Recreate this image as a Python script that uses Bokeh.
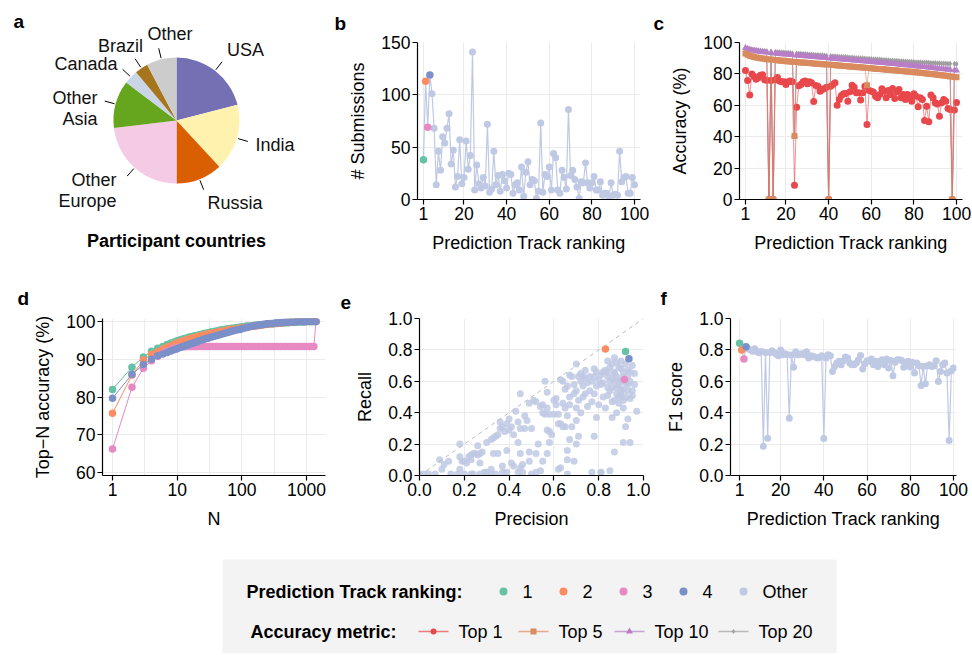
import math
from bokeh.plotting import figure
from bokeh.layouts import column, row
from bokeh.models import Range1d, FixedTicker, NumeralTickFormatter, Slope
from bokeh.embed import file_html
from bokeh.resources import INLINE
from bokeh.core.properties import value

FONT = "Liberation Sans"
TICK_FS = "17.5px"
LAB_FS = "18px"

# ---------------- data ----------------
countries = ["USA", "India", "Russia", "Other\nEurope", "Other\nAsia", "Canada", "Brazil", "Other"]
country_share = [21.0, 17.1, 11.9, 23.1, 12.2, 3.6, 3.4, 7.7]
country_colors = ["#7570B3", "#FFF2AE", "#D95F02", "#F4CAE4", "#66A61E", "#CBD5E8", "#A6761D", "#CCCCCC"]

rank_labels = ["1", "2", "3", "4", "Other"]
rank_colors = ["#66C2A5", "#FC8D62", "#E78AC3", "#7B8FC8", "#BFC9E4"]

metric_labels = ["Top 1", "Top 5", "Top 10", "Top 20"]
metric_colors = ["#E8474C", "#D98B5F", "#B77EC6", "#9E9E9E"]
metric_markers = ["circle", "square", "triangle", "diamond"]

ranks = list(range(1, 101))
submissions = [38, 113, 69, 119, 101, 68, 14, 46, 28, 60,
               54, 68, 82, 34, 47, 12, 22, 57, 15, 21,
               56, 29, 42, 141, 9, 33, 15, 11, 21, 13,
               72, 7, 10, 46, 14, 23, 8, 24, 18, 11,
               25, 24, 6, 14, 16, 9, 31, 3, 26, 36,
               14, 19, 18, 1, 8, 73, 7, 24, 22, 31,
               9, 44, 40, 9, 6, 28, 21, 10, 86, 23,
               28, 19, 12, 1, 17, 16, 35, 16, 11, 16,
               22, 9, 9, 17, 4, 6, 6, 2, 16, 4,
               5, 4, 46, 17, 21, 22, 6, 6, 21, 14]

acc_top1 = [82.2, 75.8, 66.5, 80.0, 78.3, 76.6, 77.5, 79.2, 79.4, 76.2,
            76.0, 0.0, 75.8, 0.0, 76.2, 77.7, 75.4, 75.0, 75.0, 73.2,
            75.0, 75.4, 75.0, 9.0, 58.8, 72.4, 73.2, 75.0, 75.4, 73.7,
            75.0, 74.3, 62.4, 72.6, 72.2, 69.0, 70.0, 70.7, 71.5, 0.0,
            72.2, 73.2, 74.3, 60.1, 63.7, 66.2, 67.3, 67.5, 62.6, 68.6,
            72.8, 71.5, 68.0, 68.0, 63.3, 68.0, 72.2, 47.8, 69.4, 69.0,
            68.4, 65.8, 64.8, 66.9, 70.5, 69.0, 64.8, 69.4, 66.9, 70.7,
            64.3, 68.4, 70.0, 64.8, 66.9, 63.7, 66.9, 64.8, 62.6, 67.3,
            65.8, 59.0, 64.8, 63.7, 50.3, 59.4, 49.5, 66.5, 64.8, 61.6,
            60.9, 53.0, 61.6, 63.7, 62.6, 58.0, 57.3, 0.0, 57.0, 61.8]
acc_top5 = [93.0, 92.2, 91.6, 91.2, 90.8, 90.5, 90.3, 90.0, 89.8, 89.6,
            89.4, 0.0, 89.1, 0.0, 88.8, 88.7, 88.5, 88.4, 88.3, 88.1,
            88.0, 87.9, 87.8, 40.4, 87.6, 87.5, 87.3, 87.2, 87.1, 87.0,
            86.9, 86.8, 86.6, 86.5, 86.4, 86.3, 86.2, 86.1, 86.0, 0.0,
            85.8, 85.7, 85.6, 85.4, 85.3, 85.2, 85.1, 85.0, 84.9, 84.7,
            84.6, 84.5, 84.4, 84.3, 84.2, 84.0, 83.9, 72.8, 83.7, 83.6,
            83.5, 83.3, 83.2, 83.1, 83.0, 82.9, 82.7, 82.6, 82.5, 82.4,
            82.3, 82.1, 82.0, 81.9, 81.8, 81.6, 81.5, 81.4, 81.3, 81.1,
            81.0, 80.9, 80.7, 80.6, 80.4, 80.3, 80.1, 80.0, 79.8, 79.7,
            79.5, 79.3, 79.1, 79.0, 78.8, 78.6, 78.4, 0.0, 78.1, 77.9]
acc_top10 = [96.5, 95.8, 95.3, 95.0, 94.7, 94.5, 94.3, 94.1, 93.9, 93.8,
             93.6, 0.0, 93.3, 0.0, 93.0, 92.9, 92.8, 92.6, 92.5, 92.4,
             92.3, 92.2, 92.0, 40.6, 91.8, 91.7, 91.6, 91.5, 91.3, 91.2,
             91.1, 91.0, 90.9, 90.8, 90.6, 90.5, 90.4, 90.3, 90.2, 0.0,
             89.9, 89.8, 89.7, 89.6, 89.4, 89.3, 89.2, 89.1, 89.0, 88.8,
             88.7, 88.6, 88.5, 88.4, 88.2, 88.1, 88.0, 87.9, 87.8, 87.6,
             87.5, 87.4, 87.3, 87.1, 87.0, 86.9, 86.8, 86.6, 86.5, 86.4,
             86.3, 86.1, 86.0, 85.9, 85.7, 85.6, 85.5, 85.3, 85.2, 85.1,
             84.9, 84.8, 84.7, 84.5, 84.4, 84.2, 84.1, 83.9, 83.8, 83.6,
             83.5, 83.3, 83.2, 83.0, 82.9, 82.7, 82.6, 0.0, 82.3, 82.1]
acc_top20 = [96.8, 96.3, 95.9, 95.6, 95.4, 95.2, 95.0, 94.9, 94.7, 94.6,
             94.5, 0.0, 94.2, 0.0, 94.0, 93.9, 93.8, 93.7, 93.6, 93.5,
             93.4, 93.3, 93.2, 40.8, 93.0, 92.9, 92.8, 92.7, 92.6, 92.5,
             92.4, 92.3, 92.2, 92.1, 92.0, 91.9, 91.8, 91.7, 91.6, 0.0,
             91.4, 91.3, 91.2, 91.1, 91.0, 90.9, 90.8, 90.7, 90.6, 90.5,
             90.4, 90.3, 90.2, 90.1, 90.0, 89.9, 89.8, 89.7, 89.6, 89.5,
             89.4, 89.3, 89.2, 89.1, 89.0, 88.9, 88.8, 88.7, 88.6, 88.5,
             88.4, 88.3, 88.2, 88.1, 88.0, 87.9, 87.9, 87.8, 87.7, 87.6,
             87.5, 87.5, 87.4, 87.3, 87.2, 87.2, 87.1, 87.0, 87.0, 86.9,
             86.8, 86.8, 86.7, 86.6, 86.6, 86.5, 86.5, 0.0, 86.4, 86.3]

topn_N = [1, 2, 3, 4, 5, 6, 7, 8, 9, 10, 11, 12, 13, 14, 15, 16, 17, 18, 19, 20,
          22, 24, 26, 28, 30, 33, 36, 40, 44, 48, 53, 58, 64, 70, 77,
          85, 93, 100, 110, 120, 130, 145, 160, 175, 190, 210, 230, 250, 275, 300,
          330, 360, 400, 440, 480, 530, 580, 640, 700, 770, 850, 930, 1000, 1100, 1200,
          1300, 1400]
topn_rank1 = [82.0, 87.9, 90.6, 92.1, 92.9, 93.4, 93.9, 94.3, 94.6, 94.9, 95.1, 95.3, 95.5, 95.6, 95.8, 95.9, 96.0, 96.1, 96.2, 96.3,
              96.5, 96.6, 96.8, 96.9, 97.0, 97.2, 97.3, 97.5, 97.6, 97.8, 97.9, 98.0, 98.1, 98.2, 98.3,
              98.4, 98.5, 98.6, 98.7, 98.8, 98.8, 98.9, 99.0, 99.1, 99.1, 99.2, 99.3, 99.3, 99.4, 99.4,
              99.5, 99.5, 99.6, 99.6, 99.7, 99.7, 99.8, 99.8, 99.8, 99.9, 99.9, 99.9, 100.0, 100.0, 100.0,
              100.0, 100.0]
topn_rank2 = [75.7, 85.8, 89.8, 91.3, 92.0, 92.7, 93.2, 93.6, 94.0, 94.3, 94.6, 94.8, 95.0, 95.2, 95.3, 95.5, 95.6, 95.7, 95.8, 95.9,
              96.1, 96.3, 96.4, 96.5, 96.7, 96.8, 97.0, 97.1, 97.3, 97.4, 97.5, 97.7, 97.8, 97.9, 98.0,
              98.1, 98.2, 98.3, 98.4, 98.5, 98.6, 98.7, 98.8, 98.9, 99.0, 99.1, 99.2, 99.3, 99.4, 99.4,
              99.5, 99.6, 99.6, 99.7, 99.8, 99.8, 99.9, 99.9, 100.0, 100.0, 100.0, 100.0, 100.0, 100.0, 100.0,
              100.0, 100.0]
topn_rank3 = [66.2, 82.6, 87.6, 89.6, 90.8, 91.6, 92.2, 92.6, 92.9, 93.1, 93.2, 93.3, 93.3, 93.4, 93.4, 93.4, 93.4, 93.4, 93.4, 93.4,
              93.4, 93.4, 93.4, 93.4, 93.4, 93.4, 93.4, 93.4, 93.4, 93.4, 93.4, 93.4, 93.4, 93.4, 93.4,
              93.4, 93.4, 93.4, 93.4, 93.4, 93.4, 93.4, 93.4, 93.4, 93.4, 93.4, 93.4, 93.4, 93.4, 93.4,
              93.4, 93.4, 93.4, 93.4, 93.4, 93.4, 93.4, 93.4, 93.4, 93.4, 93.4, 93.4, 93.4, 93.4, 93.4,
              93.4, 100.0]
topn_rank4 = [79.7, 86.0, 88.6, 90.0, 90.9, 91.4, 91.8, 92.2, 92.5, 92.8, 93.1, 93.3, 93.5, 93.7, 93.9, 94.1, 94.2, 94.4, 94.5, 94.6,
              94.9, 95.1, 95.3, 95.5, 95.6, 95.8, 96.0, 96.2, 96.4, 96.6, 96.8, 97.0, 97.2, 97.4, 97.6,
              97.8, 97.9, 98.1, 98.3, 98.4, 98.6, 98.8, 98.9, 99.0, 99.1, 99.2, 99.3, 99.4, 99.5, 99.5,
              99.6, 99.7, 99.7, 99.8, 99.8, 99.9, 99.9, 99.9, 100.0, 100.0, 100.0, 100.0, 100.0, 100.0, 100.0,
              100.0, 100.0]

precision_top = [0.92, 0.83, 0.915, 0.935]
recall_top = [0.79, 0.805, 0.612, 0.744]
pr_other = [
    (0.00, 0.01), (0.02, 0.01), (0.04, 0.01), (0.07, 0.01), (0.14, 0.01), (0.17, 0.01), (0.20, 0.01), (0.23, 0.01),
    (0.24, 0.01), (0.27, 0.01), (0.30, 0.02), (0.32, 0.01), (0.34, 0.01), (0.37, 0.02), (0.39, 0.02), (0.44, 0.02),
    (0.46, 0.02), (0.50, 0.01), (0.52, 0.02), (0.54, 0.03), (0.62, 0.04), (0.66, 0.01), (0.77, 0.02), (0.81, 0.02),
    (0.10, 0.04), (0.18, 0.04), (0.29, 0.02), (0.45, 0.05), (0.63, 0.05), (0.85, 0.03),
    (0.09, 0.10), (0.11, 0.07), (0.13, 0.09), (0.18, 0.20), (0.18, 0.12), (0.19, 0.09), (0.21, 0.08),
    (0.22, 0.12), (0.23, 0.13), (0.24, 0.14), (0.25, 0.14), (0.26, 0.19), (0.27, 0.14), (0.28, 0.15), (0.23, 0.10),
    (0.30, 0.21), (0.32, 0.23), (0.33, 0.24), (0.34, 0.25), (0.35, 0.26), (0.36, 0.30), (0.37, 0.31), (0.38, 0.28),
    (0.39, 0.33), (0.40, 0.29), (0.41, 0.31), (0.42, 0.26), (0.44, 0.21), (0.45, 0.52), (0.45, 0.30), (0.45, 0.14),
    (0.46, 0.07), (0.47, 0.38), (0.42, 0.06), (0.39, 0.16), (0.35, 0.14), (0.32, 0.04), (0.27, 0.08), (0.37, 0.06),
    (0.41, 0.08), (0.49, 0.15), (0.52, 0.14), (0.57, 0.14), (0.20, 0.09), (0.26, 0.13), (0.33, 0.14), (0.36, 0.34),
    (0.51, 0.48), (0.54, 0.44), (0.55, 0.45), (0.56, 0.60), (0.57, 0.53), (0.57, 0.43), (0.58, 0.39), (0.57, 0.29),
    (0.58, 0.28), (0.59, 0.26), (0.61, 0.49), (0.62, 0.39), (0.63, 0.33), (0.64, 0.46), (0.64, 0.60), (0.65, 0.43),
    (0.65, 0.31), (0.66, 0.57), (0.67, 0.64), (0.67, 0.45), (0.66, 0.16), (0.66, 0.10), (0.68, 0.63), (0.68, 0.31),
    (0.69, 0.09), (0.70, 0.35), (0.70, 0.20), (0.70, 0.71), (0.71, 0.63), (0.71, 0.48), (0.72, 0.60), (0.73, 0.57),
    (0.73, 0.63), (0.74, 0.67), (0.74, 0.52), (0.75, 0.59), (0.75, 0.44), (0.76, 0.63), (0.77, 0.60), (0.77, 0.47),
    (0.78, 0.68), (0.78, 0.52), (0.79, 0.57), (0.79, 0.66), (0.80, 0.45), (0.81, 0.58), (0.81, 0.64), (0.82, 0.50),
    (0.82, 0.59), (0.83, 0.67), (0.83, 0.43), (0.84, 0.56), (0.84, 0.63), (0.84, 0.51), (0.85, 0.69), (0.85, 0.54),
    (0.85, 0.60), (0.86, 0.37), (0.86, 0.71), (0.87, 0.48), (0.87, 0.75), (0.87, 0.65), (0.87, 0.15), (0.88, 0.56),
    (0.88, 0.40), (0.88, 0.72), (0.89, 0.46), (0.89, 0.60), (0.90, 0.68), (0.90, 0.52), (0.90, 0.73), (0.91, 0.43),
    (0.91, 0.63), (0.91, 0.21), (0.92, 0.31), (0.92, 0.71), (0.93, 0.36), (0.93, 0.54), (0.93, 0.67), (0.94, 0.49),
    (0.94, 0.60), (0.94, 0.21), (0.95, 0.70), (0.95, 0.54), (0.96, 0.65), (0.97, 0.41), (0.96, 0.58), (0.89, 0.69),
    (0.87, 0.60), (0.86, 0.56), (0.84, 0.73), (0.82, 0.66), (0.87, 0.66), (0.90, 0.50), (0.89, 0.50), (0.91, 0.48),
    (0.90, 0.54), (0.92, 0.59), (0.93, 0.58), (0.95, 0.51), (0.78, 0.25), (0.79, 0.37), (0.81, 0.02), (0.72, 0.40),
    (0.73, 0.50), (0.76, 0.54), (0.70, 0.54), (0.69, 0.52), (0.65, 0.55), (0.67, 0.50), (0.60, 0.39), (0.61, 0.45),
    (0.52, 0.47), (0.48, 0.35), (0.49, 0.46), (0.88, 0.63), (0.91, 0.66), (0.92, 0.50), (0.89, 0.57), (0.86, 0.62),
    (0.93, 0.63), (0.90, 0.60), (0.88, 0.52), (0.94, 0.66), (0.91, 0.55), (0.86, 0.47), (0.84, 0.66), (0.80, 0.61),
    (0.78, 0.63), (0.74, 0.62), (0.72, 0.65), (0.69, 0.58), (0.63, 0.61), (0.60, 0.48), (0.55, 0.40), (0.56, 0.39),
    (0.62, 0.33), (0.64, 0.31), (0.66, 0.38), (0.70, 0.43), (0.71, 0.25), (0.67, 0.23), (0.58, 0.21), (0.55, 0.09),
    (0.53, 0.20), (0.49, 0.09), (0.50, 0.30), (0.47, 0.30), (0.43, 0.41), (0.44, 0.34), (0.40, 0.36),
]
precision_other = [a for a, b in pr_other]
recall_other = [b for a, b in pr_other]

f1_score = [0.843, 0.800, 0.742, 0.820, 0.805, 0.800, 0.792, 0.807, 0.790, 0.782,
            0.790, 0.187, 0.784, 0.238, 0.784, 0.795, 0.784, 0.773, 0.763, 0.800,
            0.769, 0.776, 0.771, 0.365, 0.767, 0.689, 0.788, 0.769, 0.773, 0.776,
            0.769, 0.788, 0.748, 0.763, 0.759, 0.754, 0.748, 0.752, 0.763, 0.236,
            0.748, 0.769, 0.763, 0.663, 0.695, 0.716, 0.727, 0.706, 0.731, 0.754,
            0.748, 0.716, 0.706, 0.706, 0.716, 0.737, 0.765, 0.678, 0.712, 0.731,
            0.727, 0.742, 0.706, 0.727, 0.695, 0.727, 0.737, 0.706, 0.742, 0.684,
            0.733, 0.636, 0.721, 0.737, 0.737, 0.733, 0.689, 0.699, 0.727, 0.691,
            0.721, 0.653, 0.716, 0.699, 0.574, 0.695, 0.585, 0.699, 0.706, 0.695,
            0.699, 0.731, 0.599, 0.663, 0.706, 0.716, 0.653, 0.223, 0.667, 0.684]

rank_ticks = [1, 20, 40, 60, 80, 100]

# ---------------- helpers ----------------
def make_fig(w, h, ml, mr, mt, mb, xr, yr, x_axis_type="linear"):
    p = figure(width=w, height=h, min_border_left=ml, min_border_right=mr,
               min_border_top=mt, min_border_bottom=mb, x_range=xr, y_range=yr,
               x_axis_type=x_axis_type, toolbar_location=None, output_backend="svg")
    p.outline_line_color = None
    p.background_fill_color = "white"
    p.border_fill_color = "white"
    for ax in (p.xaxis[0], p.yaxis[0]):
        ax.axis_line_color = "black"
        ax.axis_line_width = 1.2
        ax.major_tick_line_color = "black"
        ax.major_tick_line_width = 1.2
        ax.major_tick_out = 5
        ax.major_tick_in = 0
        ax.minor_tick_line_color = None
        ax.major_label_text_font = FONT
        ax.major_label_text_font_size = TICK_FS
        ax.major_label_text_color = "black"
        ax.axis_label_text_font = FONT
        ax.axis_label_text_font_size = LAB_FS
        ax.axis_label_text_font_style = "normal"
        ax.axis_label_text_color = "black"
        ax.major_label_standoff = 2
        ax.axis_label_standoff = 10
    p.xgrid.grid_line_color = "#ebebeb"
    p.ygrid.grid_line_color = "#ebebeb"
    return p


def panel_letter(p, txt, offset, standoff):
    p.title.text = txt
    p.title.align = "left"
    p.title.offset = offset
    p.title.text_font = FONT
    p.title.text_font_size = "19px"
    p.title.text_font_style = "bold"
    p.title.text_color = "black"
    p.title.standoff = standoff


def txt(p, x, y, s, align="left", bold=False, size="18px", color="black"):
    p.text(x=[x], y=[y], text=[s], text_font=value(FONT), text_font_size=size,
           text_font_style="bold" if bold else "normal", text_align=align,
           text_baseline="middle", text_color=color)


ROW1_H = 274
ROW2_H = 274

# ---------------- panel a: pie (data units = page pixels, y = -page y) ----------------
pa = figure(width=330, height=ROW1_H, x_range=Range1d(0, 330), y_range=Range1d(-ROW1_H, 0),
            min_border=0, toolbar_location=None, output_backend="svg",
            x_axis_type=None, y_axis_type=None)
pa.outline_line_color = None
pa.xgrid.visible = False
pa.ygrid.visible = False
cx, cy, R = 176, -120, 63
total = sum(country_share)
cum = 0.0
starts, ends, mids = [], [], []
for s in country_share:
    t0 = cum / total * 2 * math.pi
    cum += s
    t1 = cum / total * 2 * math.pi
    starts.append(math.pi / 2 - t0)
    ends.append(math.pi / 2 - t1)
    mids.append((t0 + t1) / 2)
pa.wedge(x=[cx] * len(countries), y=[cy] * len(countries), radius=R,
         start_angle=starts, end_angle=ends, direction="clock",
         fill_color=country_colors, line_color=None)
lead_xs = [[cx + 1.02 * R * math.sin(m), cx + 1.18 * R * math.sin(m)] for m in mids]
lead_ys = [[cy + 1.02 * R * math.cos(m), cy + 1.18 * R * math.cos(m)] for m in mids]
pa.multi_line(xs=lead_xs, ys=lead_ys, line_color="black", line_width=1)
# label placement: offset of label block centre from pie centre (px, y downwards), alignment
label_dx = [69, 79, 31, -60, -79, -59, -56, -6.5]
label_dy = [-71, 24, 82, 69.5, -12.5, -57, -75, -87]
label_align = ["center", "left", "left", "right", "right", "right", "center", "center"]
LINE_H = 21
for name, dx, dy, al in zip(countries, label_dx, label_dy, label_align):
    lines = name.split("\n")
    n = len(lines)
    for k, ln in enumerate(lines):
        yy = cy - dy - (k - (n - 1) / 2) * LINE_H
        txt(pa, cx + dx, yy, ln, align=al, color="#111111")
txt(pa, cx, -240, "Participant countries", align="center", bold=True)
txt(pa, 13, -21, "a", bold=True, size="19px")

# ---------------- panel b ----------------
pb = make_fig(320, ROW1_H, 87, 10, 42, ROW1_H - 199, Range1d(-1.8, 102.8), Range1d(0, 150))
pb.xaxis.ticker = FixedTicker(ticks=rank_ticks)
pb.yaxis.ticker = FixedTicker(ticks=[0, 50, 100, 150])
pb.xaxis.axis_label = "Prediction Track ranking"
pb.yaxis.axis_label = "# Submissions"
pb.line(ranks, submissions, line_color=rank_colors[4], line_width=1.2)
pb.scatter(ranks[4:], submissions[4:], size=7, fill_color=rank_colors[4], line_color=None)
pb.scatter(ranks[:4], submissions[:4], size=7.5, fill_color=rank_colors[:4], line_color=None)
panel_letter(pb, "b", -83, 18)

# ---------------- panel c ----------------
pc = make_fig(321, ROW1_H, 89, 9, 42, ROW1_H - 199, Range1d(-1.8, 102.8), Range1d(0, 100))
pc.xaxis.ticker = FixedTicker(ticks=rank_ticks)
pc.yaxis.ticker = FixedTicker(ticks=[0, 20, 40, 60, 80, 100])
pc.xaxis.axis_label = "Prediction Track ranking"
pc.yaxis.axis_label = "Accuracy (%)"
series_c = [acc_top1, acc_top5, acc_top10, acc_top20]
marker_size_c = [7, 6, 7, 6]
for i in [3, 2, 0, 1]:
    pc.line(ranks, series_c[i], line_color=metric_colors[i], line_width=1, line_alpha=0.6)
    pc.scatter(ranks, series_c[i], marker=metric_markers[i], size=marker_size_c[i],
               fill_color=metric_colors[i], line_color=None)
panel_letter(pc, "c", -86, 18)

# ---------------- row 2: frame from page y 318 to 475 ----------------
R2_TOP = 318 - ROW1_H
R2_BOT = (ROW1_H + ROW2_H) - 475

pd_ = make_fig(330, ROW2_H, 102, 5, R2_TOP, R2_BOT, Range1d(0.70, 1967), Range1d(59.2, 100.8), x_axis_type="log")
pd_.xaxis.ticker = FixedTicker(ticks=[1, 10, 100, 1000], minor_ticks=[3.1623, 31.623, 316.23])
pd_.xaxis.formatter = NumeralTickFormatter(format="0")
pd_.yaxis.ticker = FixedTicker(ticks=[60, 70, 80, 90, 100])
pd_.xgrid.minor_grid_line_color = "#ebebeb"
pd_.xaxis.axis_label = "N"
pd_.yaxis.axis_label = "Top\u2212N accuracy (%)"
series_d = [topn_rank1, topn_rank2, topn_rank3, topn_rank4]
for i in range(4):
    pd_.line(topn_N, series_d[i], line_color=rank_colors[i], line_width=1)
    pd_.scatter(topn_N, series_d[i], size=7.5, fill_color=rank_colors[i], line_color=None)
panel_letter(pd_, "d", -85, 20)

# ---------------- panel e ----------------
pe = make_fig(320, ROW2_H, 89, 7, R2_TOP, R2_BOT, Range1d(0, 1), Range1d(0, 1))
ticks01 = [0, 0.2, 0.4, 0.6, 0.8, 1.0]
pe.xaxis.ticker = FixedTicker(ticks=ticks01)
pe.yaxis.ticker = FixedTicker(ticks=ticks01)
pe.xaxis.formatter = NumeralTickFormatter(format="0.0")
pe.yaxis.formatter = NumeralTickFormatter(format="0.0")
pe.xaxis.axis_label = "Precision"
pe.yaxis.axis_label = "Recall"
pe.add_layout(Slope(gradient=1, y_intercept=0, line_color="#bbbbbb", line_dash="4 4", line_width=1))
pe.scatter(precision_other, recall_other, size=7, fill_color=rank_colors[4], fill_alpha=0.85, line_color=None)
pe.scatter(precision_top, recall_top, size=7.5, fill_color=rank_colors[:4], line_color=None)
panel_letter(pe, "e", -79, 20)

# ---------------- panel f ----------------
pf = make_fig(321, ROW2_H, 80, 15, R2_TOP, R2_BOT, Range1d(-3.2, 101.4), Range1d(0, 1))
pf.xaxis.ticker = FixedTicker(ticks=rank_ticks)
pf.yaxis.ticker = FixedTicker(ticks=ticks01)
pf.yaxis.formatter = NumeralTickFormatter(format="0.0")
pf.xaxis.axis_label = "Prediction Track ranking"
pf.yaxis.axis_label = "F1 score"
pf.line(ranks, f1_score, line_color=rank_colors[4], line_width=1.2)
pf.scatter(ranks[4:], f1_score[4:], size=7, fill_color=rank_colors[4], line_color=None)
pf.scatter(ranks[:4], f1_score[:4], size=7.5, fill_color=rank_colors[:4], line_color=None)
panel_letter(pf, "f", -70, 20)

# ---------------- legend (data units = page pixels; y = 653 - page y) ----------------
lg = figure(width=971, height=105, x_range=Range1d(0, 971), y_range=Range1d(0, 105),
            min_border=0, toolbar_location=None, output_backend="svg",
            x_axis_type=None, y_axis_type=None)
lg.outline_line_color = None
lg.xgrid.visible = False
lg.ygrid.visible = False
lg.quad(left=[222], right=[836], bottom=[0], top=[94], fill_color="#f3f3f3", line_color=None)
row1_y, row2_y = 62, 22
txt(lg, 246, row1_y, "Prediction Track ranking:", bold=True)
dot_x = [503 + 60 * i for i in range(len(rank_labels))]
lg.scatter(dot_x, [row1_y] * len(dot_x), size=8, fill_color=rank_colors, line_color=None)
lg.text(x=[d + 19 for d in dot_x], y=[row1_y] * len(dot_x), text=rank_labels, text_font=value(FONT),
        text_font_size="18px", text_baseline="middle", text_align="left", text_color="black")
txt(lg, 250, row2_y, "Accuracy metric:", bold=True)
seg_x = [418, 518, 614, 718]
for i, sx in enumerate(seg_x):
    lg.line([sx, sx + 30], [row2_y, row2_y], line_color=metric_colors[i], line_width=1.5, line_alpha=0.7)
    lg.scatter([sx + 15], [row2_y], marker=metric_markers[i], size=[6, 6, 7, 5][i],
               fill_color=metric_colors[i], line_color=None)
lg.text(x=[sx + 40 for sx in seg_x], y=[row2_y] * 4, text=metric_labels, text_font=value(FONT),
        text_font_size="18px", text_baseline="middle", text_align="left", text_color="black")

layout = column(row(column(pa), pb, pc), row(pd_, pe, pf), lg)
open("out.html", "w").write(file_html(layout, INLINE))
